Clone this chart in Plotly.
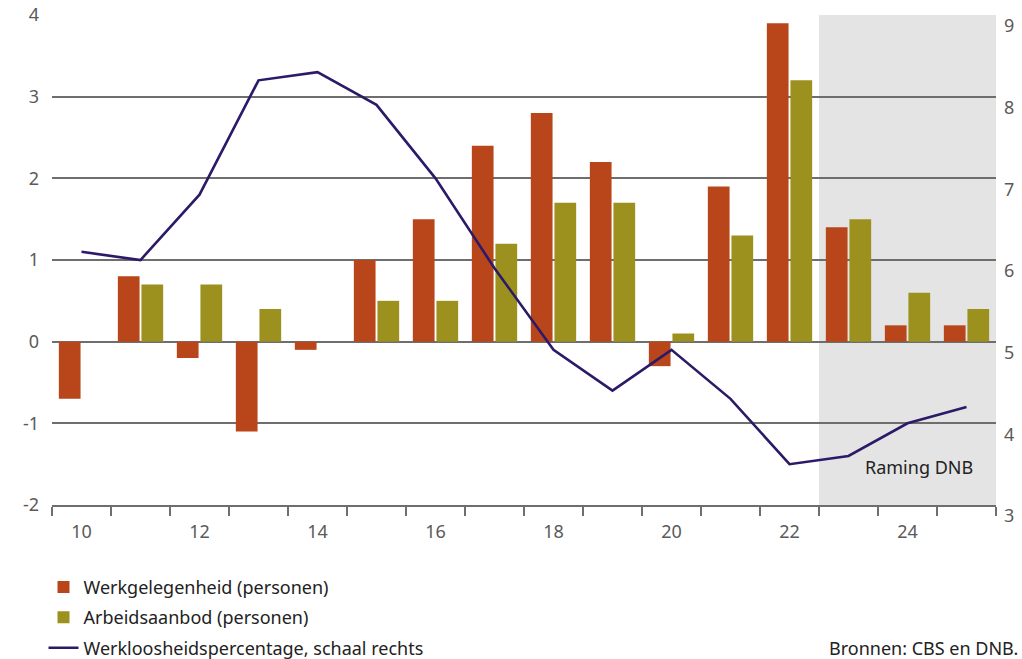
import plotly.graph_objects as go

jaren = list(range(2010, 2026))
werkgelegenheid = [-0.7, 0.8, -0.2, -1.1, -0.1, 1.0, 1.5, 2.4, 2.8, 2.2, -0.3, 1.9, 3.9, 1.4, 0.2, 0.2]
arbeidsaanbod = [0.0, 0.7, 0.7, 0.4, 0.0, 0.5, 0.5, 1.2, 1.7, 1.7, 0.1, 1.3, 3.2, 1.5, 0.6, 0.4]
werkloosheid = [6.1, 6.0, 6.8, 8.2, 8.3, 7.9, 7.0, 5.9, 4.9, 4.4, 4.9, 4.3, 3.5, 3.6, 4.0, 4.2]

x_labels = [2010, 2012, 2014, 2016, 2018, 2020, 2022, 2024]
x_text = ["10", "12", "14", "16", "18", "20", "22", "24"]
y_links = [-2, -1, 0, 1, 2, 3, 4]
y_links_text = ["-2", "-1", "0", "1", "2", "3", "4"]
y_rechts = [3, 4, 5, 6, 7, 8, 9]

FONT = "Noto Sans"
GRID = "#6e6e6e"
TICKC = "#5a5a5a"
FS = 18

fig = go.Figure()

fig.add_trace(go.Bar(
    x=jaren, y=werkgelegenheid, name="Werkgelegenheid (personen)", legendgroup="a",
    marker=dict(color="#b8461a", line=dict(width=0)),
))
fig.add_trace(go.Bar(
    x=jaren, y=arbeidsaanbod, name="Arbeidsaanbod (personen)", legendgroup="b",
    marker=dict(color="#9c901e", line=dict(width=0)),
))
fig.add_trace(go.Scatter(
    x=jaren, y=werkloosheid, yaxis="y2", mode="lines", legendgroup="c",
    name="Werkloosheidspercentage, schaal rechts",
    line=dict(color="#2c1a68", width=2.6),
))

# raming-periode grijs
fig.add_shape(type="rect", xref="x", yref="paper", x0=2022.5, x1=2025.5, y0=0, y1=1,
              fillcolor="#e4e4e4", line=dict(width=0), layer="below")

fig.add_annotation(x=2025.15, y=-1.54, xref="x", yref="y", text="Raming DNB",
                   showarrow=False, xanchor="right", yanchor="middle",
                   font=dict(family=FONT, size=FS, color="#222222"))
fig.add_annotation(x=0.821, y=-0.292, xref="paper", yref="paper", text="Bronnen: CBS en DNB.",
                   showarrow=False, xanchor="left", yanchor="middle",
                   font=dict(family=FONT, size=FS, color="#222222"))

fig.update_layout(
    width=1022, height=659,
    margin=dict(l=52, r=26, t=15, b=154, autoexpand=False),
    plot_bgcolor="white", paper_bgcolor="white",
    barmode="group", bargap=0.2, bargroupgap=0.08,
    font=dict(family=FONT, size=FS, color=TICKC),
    showlegend=True,
    legend=dict(orientation="v", x=-0.009, y=-0.13, xanchor="left", yanchor="top",
                font=dict(family=FONT, size=FS, color="#222222"),
                tracegroupgap=4, bgcolor="rgba(0,0,0,0)"),
    xaxis=dict(
        range=[2009.5, 2025.5], tickmode="array", tickvals=x_labels, ticktext=x_text,
        ticks="", showgrid=False, zeroline=False, ticklabelstandoff=10,
        showline=True, linecolor=GRID, linewidth=1.5,
        tickfont=dict(family=FONT, size=FS, color=TICKC),
        minor=dict(tickmode="array", tickvals=[j + 0.5 for j in range(2009, 2026)],
                   ticks="outside", ticklen=9, tickwidth=1.5, tickcolor=GRID, showgrid=False),
    ),
    yaxis=dict(
        range=[-2, 4], tickmode="array", tickvals=y_links, ticktext=y_links_text,
        showgrid=True, gridcolor=GRID, gridwidth=1.5,
        zeroline=True, zerolinecolor=GRID, zerolinewidth=1.5,
        ticks="", ticklabelstandoff=12,
        tickfont=dict(family=FONT, size=FS, color=TICKC),
    ),
    yaxis2=dict(
        range=[3, 9], tickmode="array", tickvals=y_rechts, overlaying="y", side="right",
        showgrid=False, zeroline=False, ticks="", ticklabelstandoff=7, ticklabelshift=11,
        tickfont=dict(family=FONT, size=FS, color=TICKC),
    ),
)

# pagina-marge weg zodat de figuur precies in het venster past
fig.write_html("out.html", config={"displayModeBar": False},
               post_script="document.body.style.margin='0';document.body.style.overflow='hidden';")
